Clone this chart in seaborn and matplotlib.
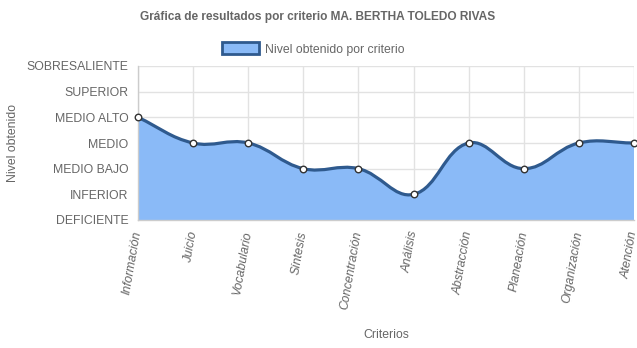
import numpy as np
import matplotlib
matplotlib.use("Agg")
import matplotlib.pyplot as plt
from matplotlib.path import Path
from matplotlib.patches import PathPatch, Patch
import seaborn as sns

criterios = ["Información", "Juicio", "Vocabulario", "Síntesis", "Concentración",
             "Análisis", "Abstracción", "Planeación", "Organización", "Atención"]
niveles = ["DEFICIENTE", "INFERIOR", "MEDIO BAJO", "MEDIO", "MEDIO ALTO",
           "SUPERIOR", "SOBRESALIENTE"]
valores = [4, 3, 3, 2, 2, 1, 3, 2, 3, 3]

sns.set_theme(style="white")
plt.rcParams["font.family"] = ["Liberation Sans", "DejaVu Sans"]

GRAY = "#666666"
GRID = "#e2e2e2"
LINE = "#2f5a8e"
FILL = "#8abaf7"

fig = plt.figure(figsize=(6.37, 3.48), dpi=100)
ax = fig.add_axes([138 / 637, 1 - 220 / 348, (634 - 138) / 637, (220 - 66) / 348])

n = len(criterios)
ax.set_xlim(0, n - 1)
ax.set_ylim(0, len(niveles) - 1)

# cardinal spline (tension 0.4) computed in pixel space
sx = (634 - 138) / (n - 1)
sy = (220 - 66) / (len(niveles) - 1)
pts = np.array([[i * sx, v * sy] for i, v in enumerate(valores)], dtype=float)
t = 0.4
cprev, cnext = [], []
for i in range(n):
    cur = pts[i]
    prv = pts[i - 1] if i > 0 else cur
    nxt = pts[i + 1] if i < n - 1 else cur
    d01 = np.hypot(*(cur - prv))
    d12 = np.hypot(*(nxt - cur))
    tot = d01 + d12
    s01 = d01 / tot if tot else 0
    s12 = d12 / tot if tot else 0
    cprev.append(cur - t * s01 * (nxt - prv))
    cnext.append(cur + t * s12 * (nxt - prv))

def to_data(p):
    return (p[0] / sx, p[1] / sy)

verts = [to_data(pts[0])]
codes = [Path.MOVETO]
for i in range(n - 1):
    verts += [to_data(cnext[i]), to_data(cprev[i + 1]), to_data(pts[i + 1])]
    codes += [Path.CURVE4] * 3

fill_verts = verts + [(n - 1, 0), (0, 0), verts[0]]
fill_codes = codes + [Path.LINETO, Path.LINETO, Path.CLOSEPOLY]
ax.add_patch(PathPatch(Path(fill_verts, fill_codes), facecolor=FILL, edgecolor="none", zorder=2))
ax.add_patch(PathPatch(Path(verts, codes), facecolor="none", edgecolor=LINE, lw=2.3,
                       zorder=3, capstyle="round", joinstyle="round"))

sns.scatterplot(x=list(range(n)), y=valores, ax=ax, s=22, color="white",
                edgecolor="#333333", linewidth=1.0, zorder=4, clip_on=False, legend=False)

ax.set_xticks(range(n))
ax.set_xticklabels(criterios, rotation=80, ha="right", va="center", rotation_mode="anchor",
                   fontstyle="italic", fontsize=8.8, color=GRAY)
ax.set_yticks(range(len(niveles)))
ax.set_yticklabels(niveles, fontsize=8.8, color=GRAY)
ax.tick_params(axis="both", length=6, width=1, color=GRID, direction="out")
ax.tick_params(axis="y", pad=1)
ax.tick_params(axis="x", pad=2)
ax.grid(True, color=GRID, lw=1, zorder=0)
ax.set_axisbelow(True)
for s in ["top", "right"]:
    ax.spines[s].set_visible(False)
ax.spines["left"].set_color("#cccccc")
ax.spines["bottom"].set_color("#cccccc")
ax.spines["left"].set_linewidth(1)
ax.spines["bottom"].set_linewidth(1)

ax.set_xlabel("Criterios", fontsize=8.8, color=GRAY)
ax.xaxis.set_label_coords((386 - 138) / (634 - 138), -(329 - 220) / 154)
ax.set_ylabel("Nivel obtenido", fontsize=8.8, color=GRAY)
ax.yaxis.set_label_coords(-(138 - 19) / 496, 0.5)

fig.text(318 / 637, 1 - 17 / 348, "Gráfica de resultados por criterio MA. BERTHA TOLEDO RIVAS",
         ha="center", va="center", fontsize=8.6, fontweight="bold", color=GRAY)

handle = Patch(facecolor=FILL, edgecolor=LINE, linewidth=2)
fig.legend([handle], ["Nivel obtenido por criterio"], loc="center",
           bbox_to_anchor=(313 / 637, 1 - 49 / 348), frameon=False, fontsize=8.8,
           labelcolor=GRAY, handlelength=3.0, handleheight=1.1, handletextpad=0.5)

fig.savefig("out.png", dpi=100)
